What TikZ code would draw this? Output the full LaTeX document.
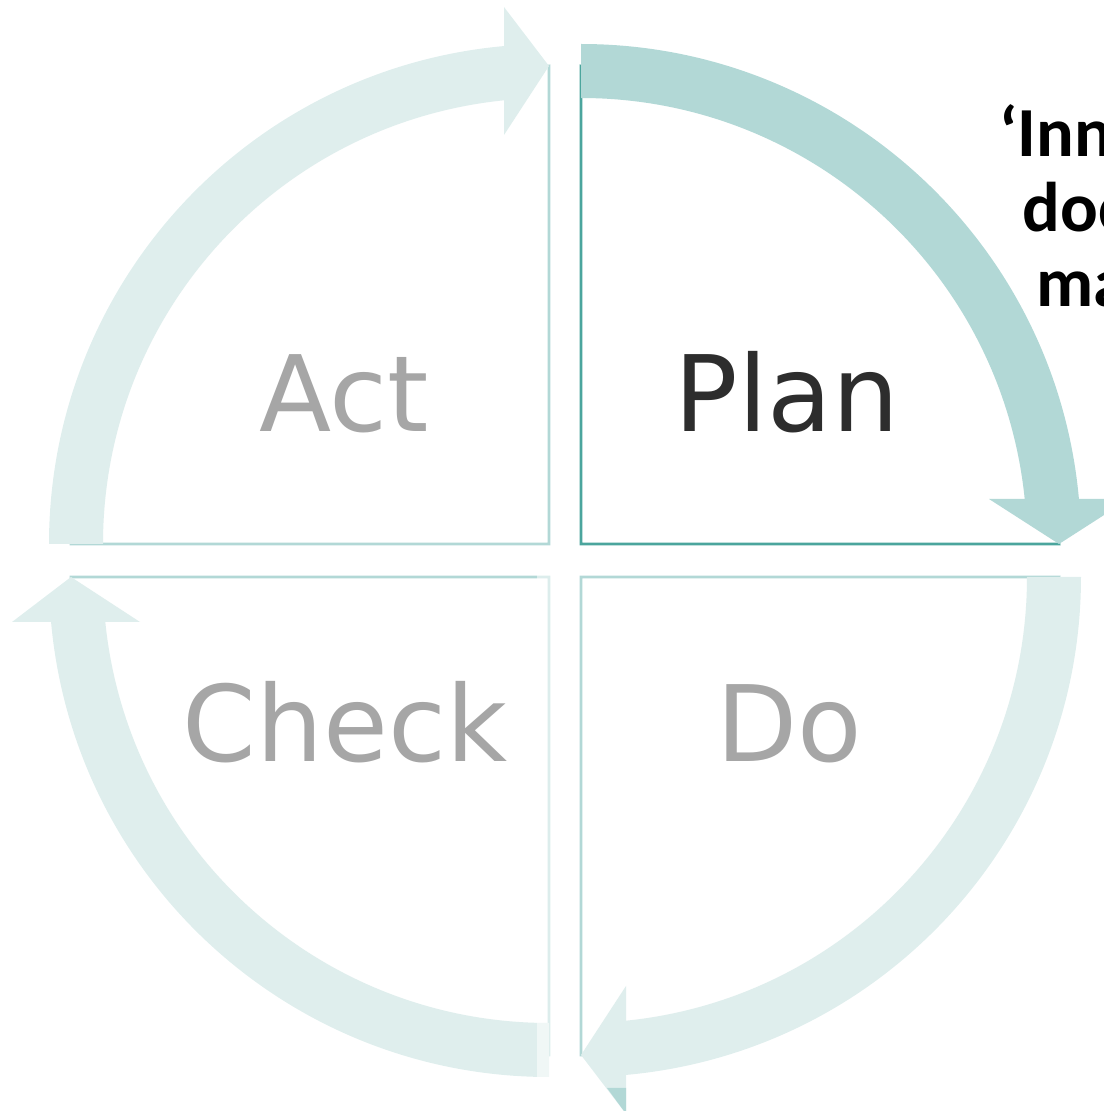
\documentclass[tikz,border=0pt]{standalone}
\usepackage{fontspec}
\setmainfont{DejaVu Sans}
\newfontfamily\calibfont{Carlito}
\definecolor{planline}{RGB}{75,165,157}
\definecolor{lightline}{RGB}{178,216,214}
\definecolor{arrowdark}{RGB}{178,216,214}
\definecolor{arrowlight}{RGB}{223,238,237}
\definecolor{plantext}{RGB}{45,45,45}
\definecolor{greytext}{RGB}{166,166,166}
\tikzset{
  quadline/.style={line width=0.85pt, fill=white},
  lbl/.style={font=\fontsize{30}{36}\selectfont, anchor=base, inner sep=0pt, text=greytext},
  note/.style={font=\calibfont\bfseries\fontsize{20}{24}\selectfont, anchor=base west, inner sep=0pt},
  pics/cyclearrow/.style n args={3}{code={
    \fill[#1] (90:500) arc[start angle=90,end angle=5.17,radius=500]
      -- (5.79:446) arc[start angle=5.79,end angle=90,radius=446] -- cycle;
    \fill[#1] ({#2-#3},45) -- ({#2+#3},45) -- (478,0) -- cycle;
  }}
}
\begin{document}
\begin{tikzpicture}[x=0.01cm,y=0.01cm]
\useasboundingbox (0,0) rectangle (1104,1111);
\clip (0,0) rectangle (1104,1111);
\coordinate (cP) at (581,567);
\coordinate (cD) at (581,534);
\coordinate (cC) at (549,534);
\coordinate (cA) at (549,567);
% quadrants
\draw[quadline, draw=lightline] (cA) -- ++(180:478) arc[start angle=180,end angle=90,radius=478] -- cycle;
\draw[quadline, draw=lightline] (cC) -- ++(-90:478) arc[start angle=-90,end angle=-180,radius=478] -- cycle;
\draw[quadline, draw=lightline] (cD) -- ++(0:478) arc[start angle=0,end angle=-90,radius=478] -- cycle;
\draw[quadline, draw=planline] (cP) -- ++(90:478) arc[start angle=90,end angle=0,radius=478] -- cycle;
% arrows
\pic at (cP) {cyclearrow={arrowdark}{478}{70}};
\pic[rotate=-90] at (cD) {cyclearrow={arrowlight}{473}{64}};
\pic[rotate=-180] at (cC) {cyclearrow={arrowlight}{473}{64}};
\pic[rotate=-270] at (cA) {cyclearrow={arrowlight}{473}{64}};
% small details
\fill[white, opacity=0.55] (537,33) rectangle (551,536);
\fill[arrowdark] (607,23) -- (626,23) -- (626,0) -- (624,0) -- cycle;
% labels
\node[lbl] (act) at (344,679) {Act};
\node[lbl, text=plantext] (plan) at (787,679) {Plan};
\node[lbl] (check) at (345,349) {Check};
\node[lbl] (do) at (789,349) {Do};
% side note, cut off by the right edge as in the reference
\node[note] (n1) at (999,954) {‘Inno};
\node[note] (n2) at (1022,879) {doc};
\node[note] (n3) at (1036,804) {ma};
\end{tikzpicture}
\end{document}
